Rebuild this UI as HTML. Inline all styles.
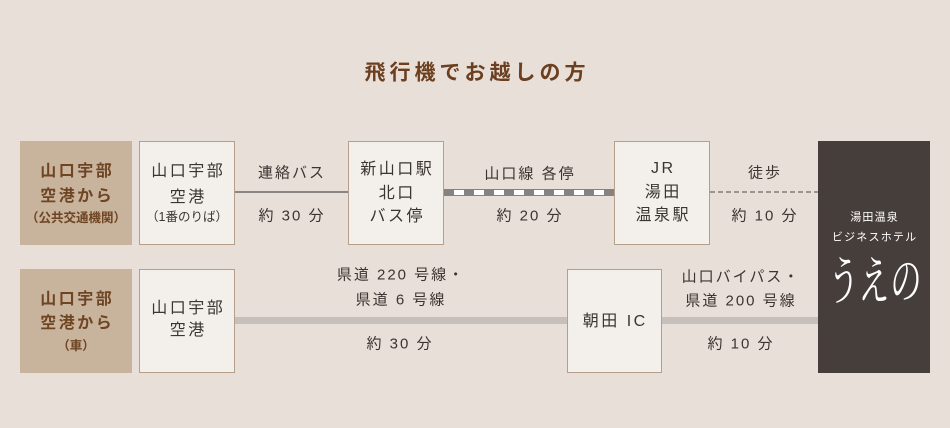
<!DOCTYPE html>
<html><head><meta charset="utf-8"><style>
html,body{margin:0;padding:0}
body{width:950px;height:428px;background:#e8e0d8;position:relative;overflow:hidden;font-family:"Liberation Sans","Noto Sans CJK JP",sans-serif;color:#3b3431}
.b{position:absolute;box-sizing:border-box}
.tan{background:#c8b39d}
.box{background:#f3efeb;border:1px solid #b59e8a}
.t{position:absolute;white-space:nowrap;transform:translate(-50%,-50%);line-height:1;font-size:15px;letter-spacing:2px;padding-left:2px}
.bx{font-size:16px;letter-spacing:2.5px;padding-left:2.5px}
.br{color:#6e4422;font-weight:bold;font-size:16px;letter-spacing:2.5px;padding-left:2.5px}
.sm{font-size:12.5px;letter-spacing:0;padding-left:0}
.w{color:#fff;font-size:11px;letter-spacing:1.2px;padding-left:1.2px}
</style></head><body>

<div class="t" style="left:475px;top:73px;font-size:21px;font-weight:bold;color:#6b3f1f;letter-spacing:4px;padding-left:4px">飛行機でお越しの方</div>

<!-- row 1 -->
<div class="b tan" style="left:20px;top:141px;width:112px;height:104px"></div>
<div class="b box" style="left:139px;top:141px;width:96px;height:104px"></div>
<div class="b" style="left:235px;top:191px;width:113px;height:2px;background:#8a8683"></div>
<div class="b box" style="left:348px;top:141px;width:96px;height:104px"></div>
<div class="b" style="left:444px;top:189px;width:170px;height:7px;background:#86827f"></div>
<div class="b" style="left:454px;top:190px;width:150px;height:5px;background:repeating-linear-gradient(90deg,#fff 0 10px,transparent 10px 20px)"></div>
<div class="b box" style="left:614px;top:141px;width:96px;height:104px"></div>
<div class="b" style="left:710px;top:191px;width:108px;height:2px;background:repeating-linear-gradient(90deg,#9a948f 0 5px,transparent 5px 8px)"></div>
<div class="b" style="left:818px;top:141px;width:112px;height:232px;background:#463e3b"></div>

<div class="t br" style="left:76px;top:172px">山口宇部</div>
<div class="t br" style="left:76px;top:197px">空港から</div>
<div class="t br sm" style="left:76px;top:218px">（公共交通機関）</div>

<div class="t bx" style="left:187px;top:172px">山口宇部</div>
<div class="t bx" style="left:187px;top:198px">空港</div>
<div class="t bx sm" style="left:187px;top:217px">（1番のりば）</div>

<div class="t" style="left:291px;top:173px">連絡バス</div>
<div class="t" style="left:291px;top:216px">約 30 分</div>

<div class="t bx" style="left:396px;top:170px">新山口駅</div>
<div class="t bx" style="left:396px;top:194px">北口</div>
<div class="t bx" style="left:396px;top:217px">バス停</div>

<div class="t" style="left:529px;top:174px">山口線 各停</div>
<div class="t" style="left:529px;top:216px">約 20 分</div>

<div class="t bx" style="left:662px;top:169px">JR</div>
<div class="t bx" style="left:662px;top:193px">湯田</div>
<div class="t bx" style="left:662px;top:216px">温泉駅</div>

<div class="t" style="left:764px;top:173px">徒歩</div>
<div class="t" style="left:764px;top:216px">約 10 分</div>

<div class="t w" style="left:874px;top:218px">湯田温泉</div>
<div class="t w" style="left:874px;top:238px">ビジネスホテル</div>
<div class="t" style="left:875px;top:278px;color:#fff;font-family:'Noto Serif CJK SC','Noto Serif CJK JP',serif;font-size:34px;letter-spacing:0;padding-left:0;transform:translate(-50%,-50%) scale(0.92,1.55) skewX(-6deg)">うえの</div>

<!-- row 2 -->
<div class="b tan" style="left:20px;top:269px;width:112px;height:104px"></div>
<div class="b box" style="left:139px;top:269px;width:96px;height:104px"></div>
<div class="b" style="left:235px;top:317px;width:332px;height:7px;background:#c5c0bc"></div>
<div class="b box" style="left:567px;top:269px;width:95px;height:104px"></div>
<div class="b" style="left:662px;top:317px;width:156px;height:7px;background:#c5c0bc"></div>

<div class="t br" style="left:76px;top:300px">山口宇部</div>
<div class="t br" style="left:76px;top:324px">空港から</div>
<div class="t br sm" style="left:76px;top:346px">（車）</div>

<div class="t bx" style="left:187px;top:309px">山口宇部</div>
<div class="t bx" style="left:187px;top:331px">空港</div>

<div class="t" style="left:400px;top:275px">県道 220 号線・</div>
<div class="t" style="left:400px;top:300px">県道 6 号線</div>
<div class="t" style="left:399px;top:344px">約 30 分</div>

<div class="t bx" style="left:614px;top:322px">朝田 IC</div>

<div class="t" style="left:740px;top:277px">山口バイパス・</div>
<div class="t" style="left:740px;top:301px">県道 200 号線</div>
<div class="t" style="left:740px;top:344px">約 10 分</div>

</body></html>
